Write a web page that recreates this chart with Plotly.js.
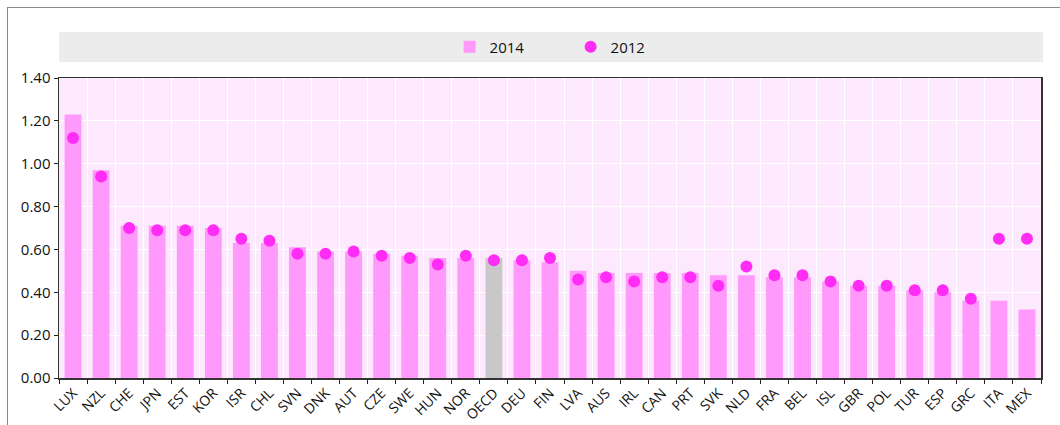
<!DOCTYPE html>
<html>
<head>
<meta charset="utf-8">
<script src="https://cdn.plot.ly/plotly-3.0.1.min.js"></script>
<style>
  html, body { margin: 0; padding: 0; background: #fff; }
  #wrap { position: relative; width: 1060px; height: 425px; overflow: hidden; }
  #chart { width: 1060px; height: 425px; }
  #frame { position: absolute; left: 7px; top: 7px; width: 1060px; height: 425px;
           border-left: 1px solid #8a8a8a; border-top: 1px solid #8a8a8a; pointer-events: none; }
</style>
</head>
<body>
<div id="wrap"><div id="chart"></div><div id="frame"></div></div>
<script>
const categories = ["LUX","NZL","CHE","JPN","EST","KOR","ISR","CHL","SVN","DNK","AUT","CZE","SWE","HUN","NOR","OECD","DEU","FIN","LVA","AUS","IRL","CAN","PRT","SVK","NLD","FRA","BEL","ISL","GBR","POL","TUR","ESP","GRC","ITA","MEX"];
const values2014 = [1.23,0.97,0.71,0.71,0.71,0.70,0.63,0.63,0.61,0.59,0.59,0.58,0.57,0.56,0.56,0.56,0.55,0.54,0.50,0.49,0.49,0.49,0.49,0.48,0.48,0.47,0.47,0.45,0.43,0.43,0.41,0.40,0.36,0.36,0.32];
const values2012 = [1.12,0.94,0.70,0.69,0.69,0.69,0.65,0.64,0.58,0.58,0.59,0.57,0.56,0.53,0.57,0.55,0.55,0.56,0.46,0.47,0.45,0.47,0.47,0.43,0.52,0.48,0.48,0.45,0.43,0.43,0.41,0.41,0.37,0.65,0.65];
const yTicks = [0, 0.2, 0.4, 0.6, 0.8, 1.0, 1.2, 1.4];

const pink = "#ff99fb";
const grey = "#c8c8c8";
const dot = "#ff2cf5";

const traces = [
  {
    type: "bar", name: "2014", x: categories, y: values2014,
    marker: { color: categories.map(c => c === "OECD" ? grey : pink) },
    hoverinfo: "x+y"
  },
  {
    type: "scatter", mode: "markers", name: "2012", x: categories, y: values2012,
    marker: { color: dot, size: 12 },
    hoverinfo: "x+y"
  }
];

const layout = {
  width: 1060, height: 425,
  margin: { l: 59, r: 19, t: 78, b: 47 },
  paper_bgcolor: "rgba(0,0,0,0)",
  plot_bgcolor: "#fde9fd",
  font: { family: "Open Sans, sans-serif", color: "#111", size: 14 },
  bargap: 0.4,
  showlegend: true,
  legend: {
    orientation: "h", x: 0.521, xanchor: "center", y: 1.103, yanchor: "middle",
    bgcolor: "rgba(0,0,0,0)", font: { size: 15, color: "#111" },
    itemwidth: 30, entrywidth: 76, tracegroupgap: 0
  },
  xaxis: {
    type: "category", tickson: "boundaries",
    showgrid: true, gridcolor: "#ffffff", gridwidth: 1,
    ticks: "outside", ticklen: 4, tickcolor: "#222",
    tickangle: -45, tickfont: { size: 14, color: "#111" },
    showline: true, linecolor: "#333", linewidth: 1.5, mirror: true,
    range: [-0.5, categories.length - 0.5], fixedrange: true
  },
  yaxis: {
    range: [0, 1.4], tickvals: yTicks, tickformat: ".2f",
    showgrid: true, gridcolor: "#ffffff", gridwidth: 1,
    ticks: "outside", ticklen: 4, tickcolor: "#222",
    tickfont: { size: 15, color: "#111" },
    showline: true, linecolor: "#333", linewidth: 1.5, mirror: true,
    zeroline: false, fixedrange: true
  },
  shapes: [
    { type: "rect", xref: "paper", yref: "paper", x0: 0, x1: 1.002, y0: 1.053, y1: 1.153,
      fillcolor: "#ececec", line: { width: 0 }, layer: "below" }
  ]
};

Plotly.newPlot("chart", traces, layout, { displayModeBar: false, staticPlot: true });
</script>
</body>
</html>
